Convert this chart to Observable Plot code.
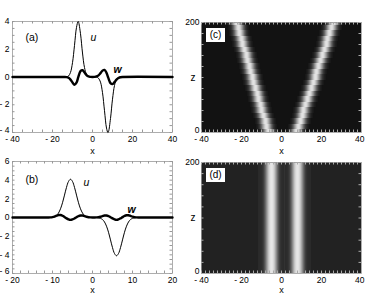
<!DOCTYPE html>
<html><head><meta charset="utf-8">
<script src="https://cdn.jsdelivr.net/npm/d3@7"></script>
<script src="https://cdn.jsdelivr.net/npm/@observablehq/plot@0.6"></script>
<style>
body{margin:0;background:#fff;}
#fig{position:relative;width:365px;height:296px;font-family:"Liberation Sans",Arial,sans-serif;overflow:hidden;}
#fig svg{position:absolute;}
.tag{position:absolute;background:#fff;font-size:10px;line-height:14px;width:19px;height:14px;text-align:center;color:#000;}
</style></head><body><div id="fig"></div>
<script>
// ---------- Panel (a): u and w profiles ----------
const xA = [-40,-15,-14,-13,-12,-11,-10,-9,-8,-7.2,-7,-6,-5,-4,-3,-2,-1,0,1,2,3,4,5,6,7,7.7,8,9,10,11,12,13,14,15,40];
const uA = [0,0,0,0.01,0.07,0.33,1.03,2.28,3.58,4.0,3.97,3.12,1.73,0.68,0.19,0.04,0.01,0,0,-0.01,-0.09,-0.37,-1.13,-2.43,-3.68,-4.0,-3.94,-2.99,-1.60,-0.61,-0.16,-0.03,0,0,0];
const wA = [0,0,0,-0.01,-0.06,-0.19,-0.40,-0.56,-0.41,-0.05,0.05,0.42,0.49,0.32,0.14,0.04,0.01,0,0.01,0.04,0.12,0.28,0.46,0.51,0.30,0.02,-0.10,-0.44,-0.51,-0.37,-0.19,-0.07,-0.02,0,0];
const xTicksA = [-40,-20,0,20,40];
const yTicksA = [-4,-2,0,2,4];

// ---------- Panel (b) ----------
const xB = [-20,-12,-11.5,-11,-10.5,-10,-9.5,-9,-8.5,-8,-7.5,-7,-6.5,-6,-5.5,-5,-4.5,-4,-3.5,-3,-2.5,-2,-1.5,-1,-0.5,0,0.5,1,1.5,2,2.5,3,3.5,4,4.5,5,5.5,6,6.5,7,7.5,8,8.5,9,9.5,10,10.5,11,11.5,12,20];
const uB = [0,0,0,0,0.01,0.03,0.09,0.22,0.48,0.93,1.58,2.40,3.23,3.86,4.10,3.86,3.23,2.40,1.58,0.93,0.48,0.22,0.09,0.03,0.01,0,0,-0.01,-0.03,-0.09,-0.22,-0.48,-0.93,-1.58,-2.40,-3.23,-3.86,-4.10,-3.86,-3.23,-2.40,-1.58,-0.93,-0.48,-0.22,-0.09,-0.03,-0.01,0,0,0];
const wB = [0,0,0,0,0.01,0.04,0.10,0.19,0.26,0.27,0.19,0.05,-0.09,-0.20,-0.25,-0.20,-0.10,0.03,0.14,0.21,0.21,0.15,0.08,0.03,0.01,0,0,0.01,0.03,0.08,0.15,0.21,0.21,0.14,0.03,-0.10,-0.20,-0.25,-0.20,-0.09,0.04,0.16,0.24,0.24,0.17,0.09,0.03,0.01,0,0,0];
const xTicksB = [-20,-10,0,10,20];
const yTicksB = [-6,-4,-2,0,2,4,6];

// ---------- Panel (c): beam tracks (x of beam centre vs z) ----------
const zC = [0,10,20,30,40,50,60,70,80,90,100,110,120,130,140,150,160,170,180,190,200];
const leftC = [-6.3,-7.1,-7.9,-8.7,-9.5,-10.3,-11.1,-11.9,-12.7,-13.5,-14.2,-15.0,-15.8,-16.6,-17.4,-18.2,-19.0,-19.8,-20.6,-21.4,-22.2];
const rightC = [7.8,8.7,9.7,10.6,11.5,12.4,13.4,14.3,15.2,16.1,17.1,18.0,18.9,19.8,20.8,21.7,22.6,23.5,24.5,25.4,26.3];
// brightness across one beam, offsets -5..5 step 0.5
const profC = [0.03,0.06,0.11,0.18,0.29,0.42,0.58,0.73,0.87,0.97,1,0.97,0.87,0.73,0.58,0.42,0.29,0.18,0.11,0.06,0.03];

// ---------- Panel (d) ----------
const zD = [0,200];
const leftD = [-4.6,-4.6];
const rightD = [8.4,8.4];
// offsets -6.5..6.5 step 0.5
const profD = [0.04,0.045,0.05,0.06,0.09,0.15,0.25,0.38,0.53,0.68,0.82,0.92,0.98,1,0.98,0.92,0.82,0.68,0.53,0.38,0.25,0.15,0.09,0.06,0.05,0.045,0.04];
const xTicksH = [-40,-20,0,20,40];
const yTicksH = [0,200];

const panelTags = ["(a)","(b)","(c)","(d)"];

// ---------- helpers ----------
const fmt = d => d < 0 ? "- " + Math.abs(d) : String(d);
const baseStyle = {fontSize:"8.5px", fontFamily:"'Liberation Sans',Arial,sans-serif", background:"transparent", overflow:"visible", color:"#000"};

function edgeTicks(xt, yt, fw, fh, len, color) {
  return [
    Plot.tickX(xt, {x: d => d, insetTop: fh - len, stroke: color}),
    Plot.tickX(xt, {x: d => d, insetBottom: fh - len, stroke: color}),
    Plot.tickY(yt, {y: d => d, insetLeft: fw - len, stroke: color}),
    Plot.tickY(yt, {y: d => d, insetRight: fw - len, stroke: color})
  ];
}

// y axis: lowest label nudged up slightly so it clears the x tick labels
function yAxes(yt, pad) {
  return [
    Plot.axisY(yt.slice(1), {tickSize: 0, tickPadding: pad, tickFormat: fmt, label: null}),
    Plot.axisY(yt.slice(0, 1), {tickSize: 0, tickPadding: pad, tickFormat: fmt, label: null, dy: -2.5})
  ];
}

function heatCells(zs, tracks, prof) {
  const half = (prof.length - 1) / 2;
  const cells = [];
  zs.forEach((z, k) => {
    const z1 = k === 0 ? zs[0] : (zs[k-1] + z) / 2;
    const z2 = k === zs.length - 1 ? z : (z + zs[k+1]) / 2;
    for (let i = 0; i < 160; i++) {
      const x1 = -40 + i * 0.5, x2 = x1 + 0.5, xc = x1 + 0.25;
      let v = 0;
      for (const t of tracks) {
        const j = Math.round((xc - t[k]) / 0.5) + half;
        if (j >= 0 && j < prof.length) v += prof[j];
      }
      cells.push({x1, x2, y1: z1, y2: z2, v});
    }
  });
  return cells;
}

const fig = document.getElementById("fig");
function place(svg, left, top) {
  svg.style.left = left + "px";
  svg.style.top = top + "px";
  fig.appendChild(svg);
}

// ---------- line panels ----------
function linePanel(o) {
  const rows = o.x.map((x, i) => ({x, u: o.u[i], w: o.w[i]}));
  const fw = o.width - o.ml - o.mr, fh = o.height - o.mt - o.mb;
  return Plot.plot({
    width: o.width, height: o.height,
    marginLeft: o.ml, marginRight: o.mr, marginTop: o.mt, marginBottom: o.mb,
    x: {domain: o.xd}, y: {domain: o.yd},
    style: baseStyle,
    marks: [
      Plot.frame({stroke: "#999", strokeWidth: 0.8}),
      ...edgeTicks(o.xminor, o.yminor, fw, fh, 2.5, "#999"),
      Plot.axisX(o.xt, {tickSize: 0, tickPadding: 3, tickFormat: fmt, label: null}),
      ...yAxes(o.yt, 3),
      Plot.text(["x"], {text: d => d, frameAnchor: "bottom", dy: o.xLabDy, fontSize: 9}),
      Plot.line(rows, {x: "x", y: "u", stroke: "#000", strokeWidth: 1, curve: "catmull-rom"}),
      Plot.line(rows, {x: "x", y: "w", stroke: "#000", strokeWidth: 2.4, curve: "catmull-rom"}),
      Plot.text([o.tag], {text: d => d, frameAnchor: "top-left", dx: 13, dy: o.tagDy, fontSize: 10.5}),
      Plot.text(["u"], {text: d => d, frameAnchor: "top-left", dx: o.uPos[0], dy: o.uPos[1], fontSize: 10.5, fontStyle: "italic"}),
      Plot.text(["w"], {text: d => d, frameAnchor: "top-left", dx: o.wPos[0], dy: o.wPos[1], fontSize: 10.5, fontStyle: "italic", fontWeight: "bold"})
    ]
  });
}

place(linePanel({
  x: xA, u: uA, w: wA, xd: [-40, 40], yd: [-4, 4], xt: xTicksA, yt: yTicksA,
  xminor: d3.range(-40, 40.1, 5), yminor: d3.range(-4, 4.01, 0.5),
  width: 180, height: 160, ml: 12, mr: 8, mt: 21, mb: 28, xLabDy: 21,
  tag: panelTags[0], tagDy: 12, uPos: [78, 12], wPos: [101, 44]
}), 0, 0);

place(linePanel({
  x: xB, u: uB, w: wB, xd: [-20, 20], yd: [-6, 6], xt: xTicksB, yt: yTicksB,
  xminor: d3.range(-20, 20.1, 2), yminor: d3.range(-6, 6.01, 0.5),
  width: 180, height: 151, ml: 12, mr: 8, mt: 16, mb: 23, xLabDy: 19.5,
  tag: panelTags[1], tagDy: 14, uPos: [71, 17], wPos: [115, 44]
}), 0, 145);

// ---------- heat panels ----------
function heatPanel(o) {
  const fw = o.width - o.ml - o.mr, fh = o.height - o.mt - o.mb;
  return Plot.plot({
    width: o.width, height: o.height,
    marginLeft: o.ml, marginRight: o.mr, marginTop: o.mt, marginBottom: o.mb,
    x: {domain: [-40, 40]}, y: {domain: [0, 200]},
    color: {type: "linear", domain: [0, 1], range: [o.bg, o.hi], clamp: true},
    style: baseStyle,
    marks: [
      Plot.rect(o.cells, {x1: "x1", x2: "x2", y1: "y1", y2: "y2", fill: "v", shapeRendering: "crispEdges"}),
      Plot.frame({stroke: "#999", strokeWidth: 0.8}),
      ...edgeTicks(d3.range(-40, 40.1, 2), d3.range(0, 200.1, 20), fw, fh, 2.5, "#aaa"),
      Plot.axisX(xTicksH.slice(0, -1), {tickSize: 0, tickPadding: 3, tickFormat: fmt, label: null}),
      Plot.axisX(xTicksH.slice(-1), {tickSize: 0, tickPadding: 3, tickFormat: fmt, label: null, textAnchor: "end", dx: 3}),
      ...yAxes(yTicksH, 2),
      Plot.text(["x"], {text: d => d, frameAnchor: "bottom", dy: o.xLabDy, fontSize: 9}),
      Plot.text(["z"], {text: d => d, frameAnchor: "left", dx: -11, fontSize: 10})
    ]
  });
}

place(heatPanel({
  cells: heatCells(zC, [leftC, rightC], profC), bg: "#121212", hi: "#e2e2e2",
  width: 185, height: 160, ml: 21, mr: 4, mt: 22, mb: 28, xLabDy: 21
}), 180, 0);

place(heatPanel({
  cells: heatCells(zD, [leftD, rightD], profD), bg: "#222222", hi: "#e6e6e6",
  width: 185, height: 151, ml: 21, mr: 4, mt: 17, mb: 23, xLabDy: 19.5
}), 180, 145);

function tag(text, left, top) {
  const d = document.createElement("div");
  d.className = "tag";
  d.textContent = text;
  d.style.left = left + "px";
  d.style.top = top + "px";
  fig.appendChild(d);
}
tag(panelTags[2], 206, 28);
tag(panelTags[3], 206, 168);
</script>
</body></html>
